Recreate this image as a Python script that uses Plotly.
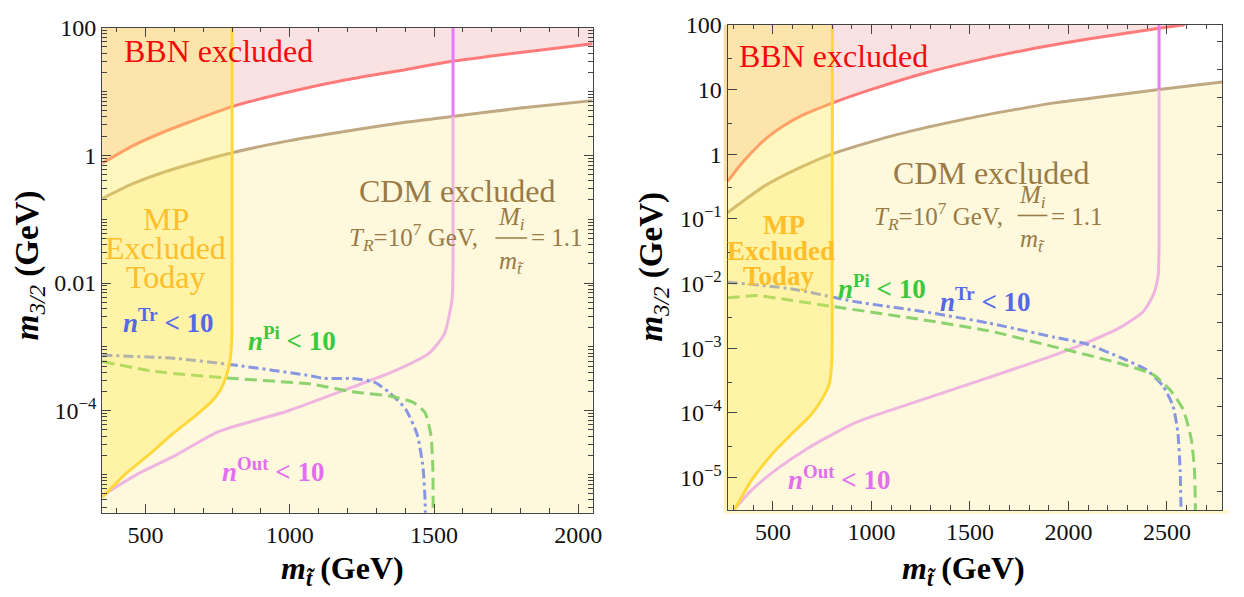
import numpy as np
import plotly.graph_objects as go

W, H = 1244, 597
FONT = "Liberation Serif"

# ---------------- data: left panel (x: stop mass GeV, y: m3/2 GeV) ----------------
bbn_l_x = [350, 450, 550, 650, 800, 1000, 1200, 1400, 1570, 1800, 2050]
bbn_l_y = [0.75, 1.37, 2.2, 3.3, 5.8, 9.9, 15.4, 22, 30, 41, 56]
cdm_l_x = [350, 450, 550, 650, 800, 1000, 1200, 1400, 1570, 1800, 2050]
cdm_l_y = [0.21, 0.35, 0.52, 0.72, 1.1, 1.7, 2.4, 3.3, 4.1, 5.5, 7.2]
mp_l_x = [800, 800, 799, 793, 780, 759, 726, 672, 590, 509, 428, 350]
mp_l_y = [100, 5.9e-3, 1.4e-3, 6.2e-4, 3.5e-4, 2.1e-4, 1.35e-4, 8.3e-5, 4.2e-5, 2.0e-5, 1.0e-5, 4.4e-6]
nout_l_x = [350, 469, 604, 753, 996, 1212, 1347, 1482, 1536, 1556, 1563, 1566, 1566]
nout_l_y = [4.7e-6, 1.0e-5, 2.0e-5, 4.7e-5, 1.0e-4, 2.3e-4, 3.9e-4, 7.9e-4, 1.6e-3, 3.7e-3, 5.9e-3, 2e-2, 4.1]
nout_l_top_x = [1566, 1566]
nout_l_top_y = [4.1, 100]
ntr_l_x = [350, 604, 807, 1077, 1117, 1212, 1293, 1347, 1401, 1442, 1462, 1469, 1470]
ntr_l_y = [7.4e-4, 6.6e-4, 5.2e-4, 3.5e-4, 3.2e-4, 3.2e-4, 2.8e-4, 1.9e-4, 1.07e-4, 4.2e-5, 1.26e-5, 4e-6, 2e-6]
npi_l_x = [350, 536, 807, 1077, 1212, 1347, 1428, 1469, 1489, 1496, 1497]
npi_l_y = [5.9e-4, 4.1e-4, 3.2e-4, 2.6e-4, 2.0e-4, 1.7e-4, 1.35e-4, 9.3e-5, 4.2e-5, 1.26e-5, 2e-6]

# ---------------- data: right panel ----------------
bbn_r_x = [270, 320, 370, 420, 470, 550, 650, 804, 1000, 1259, 1500, 1761, 2100, 2460, 2590]
bbn_r_y = [0.38, 0.6, 0.9, 1.3, 1.8, 2.7, 4.0, 6.2, 10.0, 17.5, 26.7, 39.4, 60, 88, 100]
cdm_r_x = [270, 350, 456, 607, 804, 1100, 1426, 1700, 1928, 2200, 2460, 2780]
cdm_r_y = [0.125, 0.19, 0.32, 0.56, 1.02, 1.9, 3.24, 4.7, 6.2, 7.9, 10, 13]
mp_r_x = [802, 800, 799, 787, 757, 690, 590, 489, 389, 305]
mp_r_y = [100, 1.3e-2, 7.2e-4, 2.9e-4, 1.8e-4, 9.1e-5, 4.6e-5, 2.2e-5, 8.9e-6, 3.2e-6]
nout_r_x = [305, 389, 506, 673, 924, 1259, 1594, 1928, 2096, 2263, 2380, 2430, 2455, 2460, 2460]
nout_r_y = [3.3e-6, 6.3e-6, 1.26e-5, 2.8e-5, 7.2e-5, 1.6e-4, 3.5e-4, 7.8e-4, 1.23e-3, 2.1e-3, 3.7e-3, 6.6e-3, 1.3e-2, 4e-2, 10]
nout_r_top_x = [2460, 2460]
nout_r_top_y = [10, 100]
ntr_r_x = [270, 590, 924, 1259, 1594, 1928, 2096, 2263, 2397, 2480, 2530, 2555, 2567, 2572]
ntr_r_y = [1.05e-2, 8.3e-3, 5.2e-3, 3.7e-3, 2.45e-3, 1.48e-3, 1.15e-3, 7.2e-4, 4.6e-4, 2.6e-4, 1.3e-4, 5.1e-5, 1.26e-5, 2.5e-6]
npi_r_x = [270, 422, 590, 807, 1259, 1594, 1928, 2263, 2430, 2514, 2581, 2623, 2640, 2645]
npi_r_y = [6.0e-3, 6.5e-3, 5.5e-3, 4.4e-3, 2.75e-3, 1.86e-3, 1.05e-3, 5.8e-4, 3.9e-4, 2.3e-4, 1.15e-4, 4.0e-5, 1.26e-5, 2.5e-6]

# axis settings
xr_l = [350, 2050]
yr_l = [-5.6, 2]
xr_r = [270, 2780]
yr_r = [-5.5, 2]
ytick_l_vals = [1e-4, 1e-2, 1, 100]
ytick_l_text = ["10<sup>\u22124</sup>", "0.01", "1", "100"]
ytick_r_vals = [1e-5, 1e-4, 1e-3, 1e-2, 1e-1, 1, 10, 100]
ytick_r_text = ["10<sup>\u22125</sup>", "10<sup>\u22124</sup>", "10<sup>\u22123</sup>",
                "10<sup>\u22122</sup>", "10<sup>\u22121</sup>", "1", "10", "100"]

# colours
C_BBN_FILL = "rgba(240,140,140,0.25)"
C_CDM_FILL = "rgba(252,236,140,0.30)"
C_MP_FILL = "rgba(255,232,70,0.35)"
C_RED = "#ff7a7a"
C_TAN = "#bfa882"
C_MP = "#ffd83c"
C_PINK = "#f0b4e1"
C_MAG = "#e67af8"
C_BLUE = "#8796e1"
C_GREEN = "#8cd26e"

fig = go.Figure()


def line(x, y, color, xa, ya, dash=None, width=3):
    fig.add_trace(go.Scatter(x=x, y=y, mode="lines", xaxis=xa, yaxis=ya,
                             line=dict(color=color, width=width, dash=dash,
                                       shape="spline", smoothing=0.6),
                             hoverinfo="skip", showlegend=False))


def fill(x, y, color, xa, ya):
    fig.add_trace(go.Scatter(x=x, y=y, mode="lines", xaxis=xa, yaxis=ya, fill="toself",
                             fillcolor=color, line=dict(width=0, color=color),
                             hoverinfo="skip", showlegend=False))


def panel(xa, ya, xr, bbn_x, bbn_y, cdm_x, cdm_y, mp_x, mp_y, nout_x, nout_y,
          nout_top_x, nout_top_y, ntr_x, ntr_y, npi_x, npi_y):
    lo, hi = xr[0] - 80, xr[1] + 80
    fill(cdm_x + [hi, hi, lo, lo], cdm_y + [cdm_y[-1], 1e-8, 1e-8, cdm_y[0]], C_CDM_FILL, xa, ya)
    fill([lo] + bbn_x + [hi, hi, lo], [bbn_y[0]] + bbn_y + [bbn_y[-1], 1e4, 1e4], C_BBN_FILL, xa, ya)
    line(bbn_x, bbn_y, C_RED, xa, ya)
    line(cdm_x, cdm_y, C_TAN, xa, ya)
    line(nout_x, nout_y, C_PINK, xa, ya)
    line(nout_top_x, nout_top_y, C_MAG, xa, ya)
    line(ntr_x, ntr_y, C_BLUE, xa, ya, dash="10px,4px,3px,4px")
    line(npi_x, npi_y, C_GREEN, xa, ya, dash="12px,6px")
    fill([mp_x[0]] + mp_x + [lo, lo, lo],
         [1e4] + mp_y + [mp_y[-1], 1e-8 if mp_y[-1] < 3.3e-6 else mp_y[-1], 1e4], C_MP_FILL, xa, ya)
    line(mp_x, mp_y, C_MP, xa, ya)


panel("x", "y", xr_l, bbn_l_x, bbn_l_y, cdm_l_x, cdm_l_y, mp_l_x, mp_l_y, nout_l_x, nout_l_y,
      nout_l_top_x, nout_l_top_y, ntr_l_x, ntr_l_y, npi_l_x, npi_l_y)
panel("x2", "y2", xr_r, bbn_r_x, bbn_r_y, cdm_r_x, cdm_r_y, mp_r_x, mp_r_y, nout_r_x, nout_r_y,
      nout_r_top_x, nout_r_top_y, ntr_r_x, ntr_r_y, npi_r_x, npi_r_y)

# tick helpers
minor_l = []
for n in range(-7, 3):
    for k in range(1, 10):
        v = k * 10.0 ** n
        if k == 1 and v in ytick_l_vals:
            continue
        minor_l.append(v)
minor_r = [3 * 10.0 ** n for n in range(-7, 3)]
eticks = [float(np.exp(k)) for k in range(-14, 6)]

FRAME = "#444"
axcommon = dict(showgrid=False, zeroline=False, showline=True, linecolor=FRAME, linewidth=1.3,
                ticks="inside", ticklen=9, tickwidth=1.1, tickcolor=FRAME,
                tickfont=dict(family=FONT, size=24, color="#111"))

L_DOM_X = [103 / W, 597 / W]
L_DOM_Y = [1 - 511 / H, 1 - 15 / H]
R_DOM_X = [733 / W, 1231 / W]
R_DOM_Y = [1 - 508 / H, 1 - 12 / H]

fig.update_layout(
    width=W, height=H, margin=dict(l=0, r=0, t=0, b=0),
    paper_bgcolor="white", plot_bgcolor="white", showlegend=False,
    xaxis=dict(domain=L_DOM_X, anchor="y", range=xr_l, tick0=0, dtick=500, mirror="ticks",
               minor=dict(dtick=100, ticks="inside", ticklen=4.5, tickcolor=FRAME), **axcommon),
    yaxis=dict(domain=L_DOM_Y, anchor="x", type="log", range=yr_l, tickmode="array",
               tickvals=ytick_l_vals, ticktext=ytick_l_text, mirror="ticks",
               minor=dict(tickvals=minor_l, ticks="inside", ticklen=4.5, tickcolor=FRAME), **axcommon),
    xaxis2=dict(domain=R_DOM_X, anchor="y2", range=xr_r, tick0=0, dtick=500, mirror="ticks",
                minor=dict(dtick=100, ticks="inside", ticklen=4.5, tickcolor=FRAME), **axcommon),
    yaxis2=dict(domain=R_DOM_Y, anchor="x2", type="log", range=yr_r, tickmode="array",
                tickvals=ytick_r_vals, ticktext=ytick_r_text, mirror=True,
                minor=dict(tickvals=minor_r, ticks="inside", ticklen=4.5, tickcolor=FRAME), **axcommon),
    yaxis3=dict(overlaying="y2", anchor="x2", side="right", type="log", range=yr_r,
                tickmode="array", tickvals=eticks, showticklabels=False, showgrid=False,
                zeroline=False, showline=False, ticks="inside", ticklen=5, tickcolor=FRAME),
)
fig.add_trace(go.Scatter(x=[None], y=[None], xaxis="x2", yaxis="y3", showlegend=False))

# thin coloured strips just outside the right frame (overspill of the filled regions)
for x0, x1, y0, y1, col in [(729, 733, 12, 172, "#f8dea6"), (729, 733, 172, 512, "#fff2b4"),
                            (729, 1238, 508, 512, "#fff6cc")]:
    fig.add_shape(type="rect", xref="paper", yref="paper", x0=x0 / W, x1=x1 / W,
                  y0=1 - y1 / H, y1=1 - y0 / H, line=dict(width=0), fillcolor=col, layer="below")


def ann(px, py, text, size, color, angle=0):
    fig.add_annotation(x=px / W, y=1 - py / H, xref="paper", yref="paper", text=text,
                       showarrow=False, textangle=angle, xanchor="center", yanchor="middle",
                       font=dict(family=FONT, size=size, color=color))


RED_T, TAN_T, ORG_T = "#f20c0c", "#9a7a45", "#ffbe2a"
BLUE_T, GREEN_T, VIO_T = "#5468e8", "#3cc83c", "#e46ef0"

# left panel labels
ann(220, 39, "BBN excluded", 32, RED_T)
ann(167, 211, "MP", 32, ORG_T)
ann(167, 240, "Excluded", 32, ORG_T)
ann(167, 270, "Today", 32, ORG_T)
ann(460, 182, "CDM excluded", 32, TAN_T)
ann(417, 229, "<i>T</i><sub><i>R</i></sub>=10<sup>7</sup> GeV,", 25, TAN_T)
ann(515, 210, "<i>M</i><sub><i>i</i></sub>", 25, TAN_T)
ann(515, 255, "<i>m</i><sub><i>t\u0303</i></sub>", 25, TAN_T)
ann(561, 229, "= 1.1", 25, TAN_T)
ann(170, 315, "<b><i>n</i><sup>Tr</sup> &lt; 10</b>", 27, BLUE_T)
ann(294, 333, "<b><i>n</i><sup>Pi</sup> &lt; 10</b>", 27, GREEN_T)
ann(275, 467, "<b><i>n</i><sup>Out</sup> &lt; 10</b>", 27, VIO_T)

# right panel labels
ann(840, 44, "BBN excluded", 32, RED_T)
ann(790, 217, "<b>MP</b>", 27, ORG_T)
ann(787, 243, "<b>Excluded</b>", 27, ORG_T)
ann(785, 269, "<b>Today</b>", 27, ORG_T)
ann(998, 164, "CDM excluded", 32, TAN_T)
ann(945, 208, "<i>T</i><sub><i>R</i></sub>=10<sup>7</sup> GeV,", 25, TAN_T)
ann(1040, 188, "<i>M</i><sub><i>i</i></sub>", 25, TAN_T)
ann(1040, 233, "<i>m</i><sub><i>t\u0303</i></sub>", 25, TAN_T)
ann(1085, 208, "= 1.1", 25, TAN_T)
ann(888, 280, "<b><i>n</i><sup>Pi</sup> &lt; 10</b>", 27, GREEN_T)
ann(993, 293, "<b><i>n</i><sup>Tr</sup> &lt; 10</b>", 27, BLUE_T)
ann(845, 475, "<b><i>n</i><sup>Out</sup> &lt; 10</b>", 27, VIO_T)

# fraction bars
for x0, x1, yy in [(499, 531, 230), (1025, 1055, 207)]:
    fig.add_shape(type="line", xref="paper", yref="paper", x0=x0 / W, x1=x1 / W,
                  y0=1 - yy / H, y1=1 - yy / H, line=dict(color=TAN_T, width=1.6))

# axis titles
YT = "<b><i>m</i></b><sub><i>3/2</i></sub><b> (GeV)</b>"
XT = "<b><i>m</i><sub><i>t\u0303</i></sub> (GeV)</b>"
ann(30, 258, YT, 33, "#000", angle=-90)
ann(658, 259, YT, 33, "#000", angle=-90)
ann(345, 570, XT, 32, "#000")
ann(971, 570, XT, 32, "#000")

fig.write_html("out.html", config={"displayModeBar": False},
               post_script="document.body.style.margin='0px';")
